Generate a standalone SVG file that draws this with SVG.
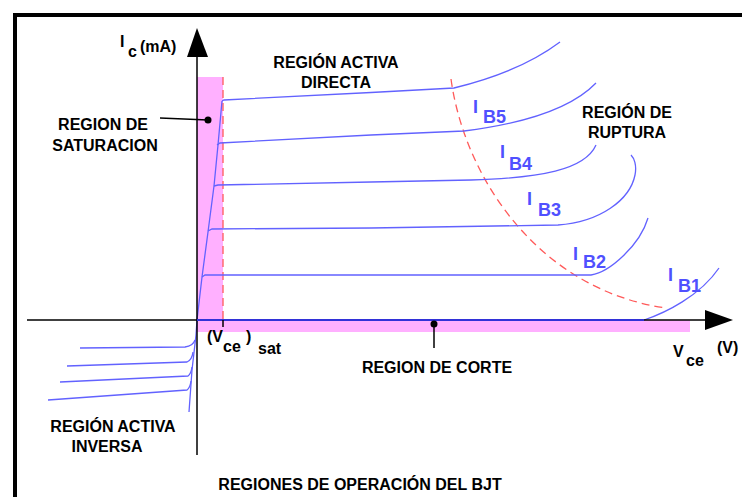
<svg xmlns="http://www.w3.org/2000/svg" width="742" height="497" viewBox="0 0 742 497">
<style>
.lbl{font-family:"Liberation Sans",Arial,sans-serif;font-weight:bold;font-size:16px;fill:#000}
.blue{font-family:"Liberation Sans",Arial,sans-serif;font-weight:bold;font-size:18px;fill:#5050ff}
.curve{fill:none;stroke:#6262ff;stroke-width:1.3}
.axis{fill:none;stroke:#000;stroke-width:1.5}
.red{fill:none;stroke:#ff5a5a;stroke-width:1.3;stroke-dasharray:8 5}
.pink{fill:#ffb0ff}
</style>
<rect width="742" height="497" fill="#fff"/>
<rect x="15" y="15" width="800" height="600" fill="none" stroke="#000" stroke-width="4"/>

<g id="regions">
  <rect class="pink" x="197" y="77" width="26" height="243"/>
  <rect class="pink" x="197" y="320" width="493" height="12"/>
  <line class="red" x1="223" y1="77" x2="223" y2="320"/>
  <path class="red" d="M451,79 C465,180 540,290 666,308"/>
</g>

<g id="connectors">
  <path class="curve" d="M197,320 L202,277 L208,232 L214,186 L218,145 L222,101"/>
  <path class="curve" d="M222,101 L224,100 L371,92.5 L454,88 Q520,72 560,42"/>
  <path class="curve" d="M217,145 L220,143 L371,135 L464,131 C520,124 570,110 596,83"/>
  <path class="curve" d="M214,186 L218,185 L371,182 L471,180 C540,178 585,170 596,145"/>
  <path class="curve" d="M208,231 L212,229 L371,228 L558,225 C600,222 630,200 635,175 C637,165 634,158 631,155"/>
  <path class="curve" d="M202,277 L205,275 L591,275 C610,272 640,245 648,218"/>
  <path class="curve" d="M644,320 C665,313 700,296 719,268"/>
  <path class="curve" d="M197,320 L196,335 L192,370 L189,412"/>
  <path class="curve" d="M80,348 L185,347 Q193,346 195,340"/>
  <path class="curve" d="M67,366 L187,362 Q192,360 193,352"/>
  <path class="curve" d="M60,382 L188,376 Q191,374 192,367"/>
  <path class="curve" d="M48,400 L187,390 Q190,388 191,381"/>
  <line class="axis" x1="197" y1="50" x2="197" y2="455"/>
  <line class="axis" x1="27" y1="320" x2="710" y2="320"/>
  <line x1="197" y1="320" x2="644" y2="320" stroke="#3232d8" stroke-width="2.2"/>
  <polygon points="197,28 187,57 208,57" fill="#000"/>
  <polygon points="733,320 705,310 705,330" fill="#000"/>
  <line class="axis" x1="223" y1="320" x2="223" y2="327"/>
  <line class="axis" x1="160" y1="118" x2="208" y2="120"/>
  <circle cx="208" cy="120" r="3.5" fill="#000"/>
  <line class="axis" x1="434" y1="324" x2="434" y2="348"/>
  <circle cx="434" cy="324" r="3.5" fill="#000"/>
</g>

<g id="axis-y-label">
  <text class="lbl" x="120" y="47">I</text>
  <text class="lbl" x="128" y="57">c</text>
  <text class="lbl" x="140" y="52" font-size="18">(mA)</text>
</g>
<g id="axis-x-label">
  <text class="lbl" x="673" y="357" font-size="18">V</text>
  <text class="lbl" x="686" y="366" font-size="18">ce</text>
  <text class="lbl" x="717" y="353">(V)</text>
</g>
<g id="vce-sat">
  <text class="lbl" x="207" y="342">(V</text>
  <text class="lbl" x="223" y="352" font-size="18">ce</text>
  <text class="lbl" x="246" y="342">)</text>
  <text class="lbl" x="258" y="354" font-size="18">sat</text>
</g>
<g id="activa-directa">
  <text class="lbl" x="336" y="68" text-anchor="middle">REGIÓN ACTIVA</text>
  <text class="lbl" x="336" y="88" text-anchor="middle">DIRECTA</text>
</g>
<g id="saturacion">
  <text class="lbl" x="103" y="130" text-anchor="middle">REGION DE</text>
  <text class="lbl" x="105" y="151" text-anchor="middle">SATURACION</text>
</g>
<g id="ruptura">
  <text class="lbl" x="627" y="118" text-anchor="middle">REGIÓN DE</text>
  <text class="lbl" x="627" y="138" text-anchor="middle">RUPTURA</text>
</g>
<g id="corte">
  <text class="lbl" x="437" y="373" text-anchor="middle">REGION DE CORTE</text>
</g>
<g id="activa-inversa">
  <text class="lbl" x="113" y="432" text-anchor="middle">REGIÓN ACTIVA</text>
  <text class="lbl" x="107" y="452" text-anchor="middle">INVERSA</text>
</g>
<g id="title">
  <text class="lbl" x="360" y="490" text-anchor="middle">REGIONES DE OPERACIÓN DEL BJT</text>
</g>
<g id="ib-labels">
  <text class="blue" x="473" y="113">I</text><text class="blue" x="483" y="123">B5</text>
  <text class="blue" x="500" y="158">I</text><text class="blue" x="509" y="170">B4</text>
  <text class="blue" x="527" y="205">I</text><text class="blue" x="538" y="216">B3</text>
  <text class="blue" x="573" y="260">I</text><text class="blue" x="583" y="268">B2</text>
  <text class="blue" x="668" y="281">I</text><text class="blue" x="678" y="292">B1</text>
</g>
</svg>
